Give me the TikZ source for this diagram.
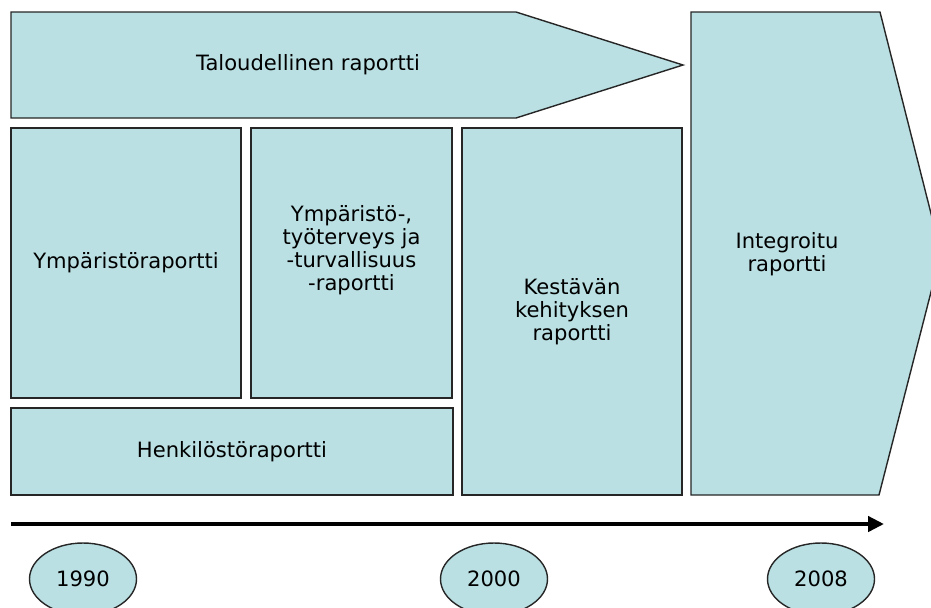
\documentclass[tikz,border=0pt]{standalone}
\usepackage{fontspec}
\setmainfont{DejaVu Sans}
\usetikzlibrary{arrows.meta,shapes.geometric}
\definecolor{reportfill}{RGB}{186,224,227}

\begin{document}
\begin{tikzpicture}[x=1cm,y=1cm,
    report/.style={draw=black!85, line width=0.8pt, fill=reportfill},
    box/.style={report, rectangle, align=center, inner sep=0pt},
    year/.style={report, ellipse, minimum width=2.14cm, minimum height=1.44cm},
    every node/.style={font=\fontsize{12}{13}\selectfont}]
            \clip (0, 0) rectangle (18.62, -12.14);

            \draw[report] (0.22, -0.24) -- (10.32, -0.24) -- (13.66, -1.30) -- (10.32, -2.36) -- (0.22, -2.36) -- cycle;
            \node (talous) at (6.16, -1.30) {Taloudellinen raportti};

            \node[box, minimum width=4.6cm, minimum height=5.4cm] (ymparisto) at (2.52, -5.26) {Ympäristöraportti};
            \node[box, minimum width=4.02cm, minimum height=5.4cm, text depth=0.6cm] (tyoterveys) at (7.03, -5.26) {Ympäristö-,\\työterveys ja\\ -turvallisuus\\ -raportti};
            \node[box, minimum width=8.84cm, minimum height=1.74cm] (henkilosto) at (4.64, -9.03) {Henkilöstöraportti};
            \node[box, minimum width=4.4cm, minimum height=7.34cm] (kestava) at (11.44, -6.23) {Kestävän\\kehityksen\\ raportti};

            \draw[report] (13.82, -0.24) -- (17.6, -0.24) -- (18.82, -5.06) -- (17.58, -9.9) -- (13.82, -9.9) -- cycle;
            \node[align=center] (integroitu) at (15.74, -5.08) {Integroitu\\raportti};

            \coordinate (alku) at (0.22, -10.48);
            \coordinate (loppu) at (17.68, -10.48);
            \draw[line width=2.3pt, -{Triangle[length=9pt, width=8.5pt]}] (alku) -- (loppu);

            \node[year] (v1990) at (1.66, -11.58) {1990};
            \node[year] (v2000) at (9.88, -11.58) {2000};
            \node[year] (v2008) at (16.42, -11.58) {2008};
        \end{tikzpicture}
\end{document}
